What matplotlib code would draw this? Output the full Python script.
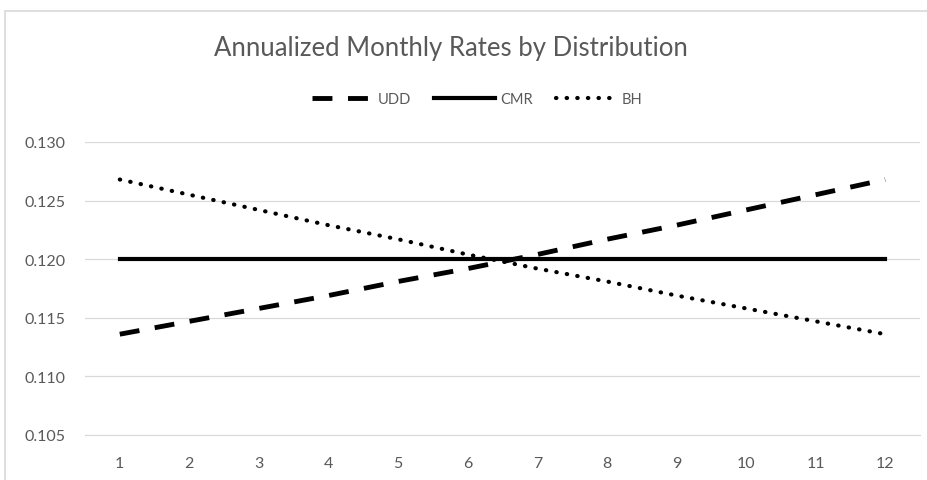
import matplotlib
matplotlib.use("Agg")
import matplotlib.pyplot as plt
from matplotlib.patches import Rectangle

months = [1, 2, 3, 4, 5, 6, 7, 8, 9, 10, 11, 12]
udd = [0.1136, 0.1147, 0.1158, 0.1169, 0.1181, 0.1192, 0.1204, 0.1217, 0.1229, 0.1242, 0.1255, 0.1268]
cmr = [0.1200] * 12
bh = [0.1268, 0.1255, 0.1242, 0.1229, 0.1217, 0.1204, 0.1192, 0.1181, 0.1169, 0.1158, 0.1147, 0.1136]
yticks = [0.105, 0.110, 0.115, 0.120, 0.125, 0.130]

plt.rcParams['font.family'] = ['Lato', 'DejaVu Sans']

fig = plt.figure(figsize=(9.28, 4.81), dpi=100)
fig.patches.append(Rectangle((5/928, -0.02), 1.2, 1 - 12/481 + 0.02, transform=fig.transFigure,
                             fill=False, edgecolor='#d9d9d9', lw=1.2))
ax = fig.add_axes([85/928, 1 - 436/481, (920 - 85)/928, (436 - 143)/481])

ax.plot(months, udd, color='black', lw=3.5, dashes=(4.1, 3.2), dash_capstyle='butt', label='UDD')
ax.plot(months, cmr, color='black', lw=3.0, label='CMR')
ax.plot(months, bh, color='black', lw=3.0, linestyle=(0, (0.1, 2.45)), dash_capstyle='round', label='BH')

ax.set_xlim(0.5, 12.5)
ax.set_ylim(0.105, 0.130)
ax.set_xticks(months)
ax.set_xticklabels([str(m) for m in months])
ax.set_yticks(yticks)
ax.set_yticklabels([f"{v:.3f}" for v in yticks])
ax.grid(axis='y', color='#d9d9d9', lw=0.9)
ax.set_axisbelow(True)
for s in ['top', 'right', 'left']:
    ax.spines[s].set_visible(False)
ax.spines['bottom'].set_color('#d9d9d9')
ax.tick_params(axis='both', length=0, colors='#595959', labelsize=11.5)
ax.tick_params(axis='y', pad=14)
ax.tick_params(axis='x', pad=15)

fig.text(451/928, 1 - 49/481, 'Annualized Monthly Rates by Distribution', ha='center', va='center',
         fontsize=18.5, color='#595959')
leg = fig.legend(*ax.get_legend_handles_labels(), loc='center', bbox_to_anchor=(477/928, 1 - 100/481),
                 ncol=3, frameon=False, fontsize=10.5, handlelength=4.2, columnspacing=1.6,
                 handletextpad=0.3, labelcolor='#595959')

fig.savefig('out.png', dpi=100, facecolor='white')
